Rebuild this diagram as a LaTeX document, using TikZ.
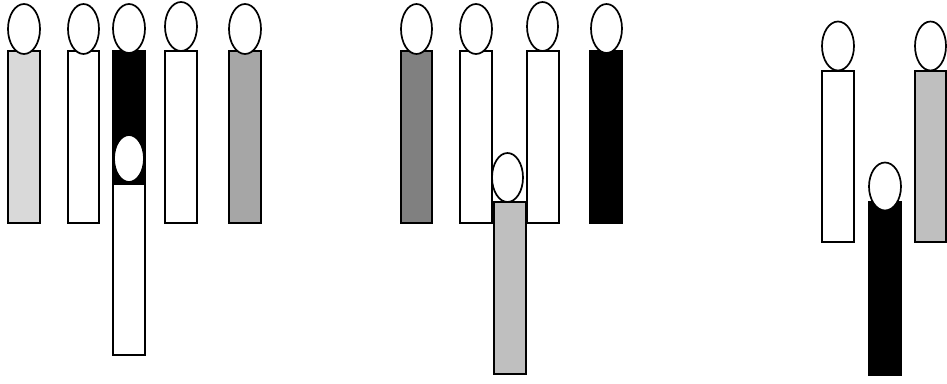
\documentclass[tikz,border=0pt]{standalone}
\begin{document}
\begin{tikzpicture}[x=1pt,y=-1pt,
  body/.style={draw=black,line width=1.7pt},
  head/.style={draw=black,fill=white,line width=1.7pt}]
\useasboundingbox (0,0) rectangle (947,383);
\definecolor{gA}{HTML}{D9D9D9}
\definecolor{gB}{HTML}{A6A6A6}
\definecolor{gC}{HTML}{808080}
\definecolor{gD}{HTML}{BFBFBF}
% group 1
\draw[body,fill=gA] (8,51) rectangle (40,223);
\draw[head] (24,29) ellipse (16pt and 25pt);
\draw[body,fill=white] (68,51) rectangle (99,223);
\draw[head] (83.5,29) ellipse (15.5pt and 25pt);
\draw[body,fill=black] (113,51) rectangle (145,223);
\draw[head] (129,28.5) ellipse (16pt and 24.5pt);
\draw[body,fill=white] (113,184) rectangle (145,355);
\draw[head] (129,158.5) ellipse (15pt and 23.5pt);
\draw[body,fill=white] (165,51) rectangle (197,223);
\draw[head] (181,26.5) ellipse (16pt and 24.5pt);
\draw[body,fill=gB] (229,51) rectangle (261,223);
\draw[head] (245,29) ellipse (16pt and 25pt);
% group 2
\draw[body,fill=gC] (401,51) rectangle (432,223);
\draw[head] (416.5,29) ellipse (15.5pt and 25pt);
\draw[body,fill=white] (460,51) rectangle (492,223);
\draw[head] (476,29) ellipse (16pt and 25pt);
\draw[body,fill=white] (527,51) rectangle (559,223);
\draw[head] (542.5,26.5) ellipse (15.5pt and 24.5pt);
\draw[body,fill=black] (590,51) rectangle (622,223);
\draw[head] (606.5,28.5) ellipse (15.5pt and 24.5pt);
\draw[body,fill=gD] (494,202) rectangle (526,374);
\draw[head] (507.5,177.5) ellipse (15.5pt and 24.5pt);
% group 3
\draw[body,fill=white] (822,71) rectangle (854,242);
\draw[head] (838,46) ellipse (16pt and 24.5pt);
\draw[body,fill=gD] (915,71) rectangle (946,242);
\draw[head] (930.5,46) ellipse (15.5pt and 24.5pt);
\draw[body,fill=black] (869,202) rectangle (901,375);
\draw[head] (885,186.5) ellipse (16pt and 24pt);
\end{tikzpicture}
\end{document}
